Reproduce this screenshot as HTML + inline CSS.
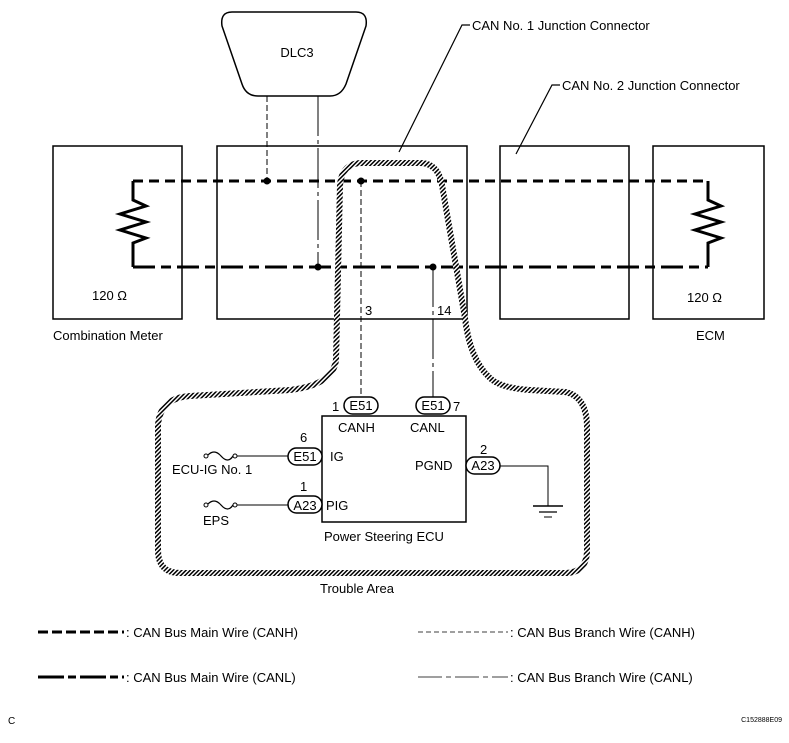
<!DOCTYPE html>
<html><head><meta charset="utf-8"><style>
html,body{margin:0;padding:0;background:#fff;}
svg{display:block;font-family:"Liberation Sans",Arial,sans-serif;}
</style></head><body>
<svg width="789" height="743" viewBox="0 0 789 743" xmlns="http://www.w3.org/2000/svg">
<defs>
<pattern id="h" width="3" height="3" patternUnits="userSpaceOnUse" patternTransform="rotate(45)">
<rect width="3" height="3" fill="#fff"/><rect width="1.5" height="3" fill="#000"/>
</pattern>
</defs>
<g fill="none" stroke="#000">
<!-- boxes -->
<rect x="53" y="146" width="129" height="173" stroke-width="1.5"/>
<rect x="217" y="146" width="250" height="173" stroke-width="1.5"/>
<rect x="500" y="146" width="129" height="173" stroke-width="1.5"/>
<rect x="653" y="146" width="111" height="173" stroke-width="1.5"/>
<!-- DLC3 -->
<path d="M232 12 L356 12 Q368 12 366 26 L346 84 Q341 96 330 96 L258 96 Q246 96 242 84 L222 26 Q220 12 232 12 Z" stroke-width="1.5"/>
<!-- DLC branches -->
<line x1="267" y1="96" x2="267" y2="181" stroke-width="1" stroke-dasharray="6,3"/>
<line x1="318" y1="96" x2="318" y2="267" stroke-width="1" stroke-dasharray="40,4,4,4"/>
<!-- main wires -->
<line x1="133" y1="181" x2="708" y2="181" stroke-width="3" stroke-dasharray="10,6"/>
<line x1="133" y1="267" x2="708" y2="267" stroke-width="3" stroke-dasharray="22,6,10,6"/>
<!-- resistors -->
<path d="M133 181 V200 L146 206 L120 214 L146 222 L120 230 L146 238 L133 243 V267" stroke-width="3" stroke-dasharray="none"/>
<path d="M708 181 V200 L721 206 L695 214 L721 222 L695 230 L721 238 L708 243 V267" stroke-width="3"/>
<!-- ECU branches -->
<line x1="361" y1="181" x2="361" y2="397" stroke-width="1" stroke-dasharray="6,3"/>
<line x1="433" y1="267" x2="433" y2="397" stroke-width="1" stroke-dasharray="40,4,4,4"/>
<!-- label leaders -->
<polyline points="399,152 462,25 470,25" stroke-width="1.2"/>
<polyline points="516,154 552,85 560,85" stroke-width="1.2"/>
<!-- trouble area -->
<path d="M336 360 L340 185 Q342 163 362 163 L420 163 Q438 163 442 185 L465 318 Q470 360 490 378 Q500 388 530 390 L565 392 Q586 396 587 425 L587 550 Q587 573 565 573 L180 573 Q158 573 158 550 L158 425 Q160 398 190 396 L290 390 Q333 385 336 360 Z" stroke="url(#h)" stroke-width="6"/>
<!-- ECU box -->
<rect x="322" y="416" width="144" height="106" stroke-width="1.5"/>
<!-- connectors -->
<rect x="344" y="397" width="34" height="17" rx="8.5" stroke-width="1.5" fill="#fff"/>
<rect x="416" y="397" width="34" height="17" rx="8.5" stroke-width="1.5" fill="#fff"/>
<rect x="288" y="448" width="34" height="17" rx="8.5" stroke-width="1.5" fill="#fff"/>
<rect x="288" y="496" width="34" height="17" rx="8.5" stroke-width="1.5" fill="#fff"/>
<rect x="466" y="457" width="34" height="17" rx="8.5" stroke-width="1.5" fill="#fff"/>
<!-- fuses -->
<line x1="235" y1="456" x2="288" y2="456" stroke-width="1"/>
<path d="M207 456 q7 -8 14 0 q7 8 12 0" stroke-width="1.3"/>
<circle cx="206" cy="456" r="2" stroke-width="1" fill="#fff"/><circle cx="235" cy="456" r="2" stroke-width="1" fill="#fff"/>
<line x1="235" y1="505" x2="288" y2="505" stroke-width="1"/>
<path d="M207 505 q7 -8 14 0 q7 8 12 0" stroke-width="1.3"/>
<circle cx="206" cy="505" r="2" stroke-width="1" fill="#fff"/><circle cx="235" cy="505" r="2" stroke-width="1" fill="#fff"/>
<!-- ground -->
<polyline points="500,466 548,466 548,506" stroke-width="1"/>
<line x1="533" y1="506" x2="563" y2="506" stroke-width="1.5"/>
<line x1="539" y1="512" x2="557" y2="512" stroke-width="1.2"/>
<line x1="544" y1="517" x2="552" y2="517" stroke-width="1"/>
<!-- legend -->
<line x1="38" y1="632" x2="124" y2="632" stroke-width="3" stroke-dasharray="10,4"/>
<line x1="418" y1="632" x2="508" y2="632" stroke-width="0.8" stroke-dasharray="5,3"/>
<line x1="38" y1="677" x2="124" y2="677" stroke-width="3" stroke-dasharray="26,4,8,4"/>
<line x1="418" y1="677" x2="508" y2="677" stroke-width="0.8" stroke-dasharray="24,4,5,4"/>
</g>
<g fill="#000">
<circle cx="267" cy="181" r="3.5"/><circle cx="361" cy="181" r="3.5"/>
<circle cx="318" cy="267" r="3.5"/><circle cx="433" cy="267" r="3.5"/>
</g>
<g font-size="13" fill="#000">
<text x="297" y="57" text-anchor="middle">DLC3</text>
<text x="472" y="30">CAN No. 1 Junction Connector</text>
<text x="562" y="90">CAN No. 2 Junction Connector</text>
<text x="92" y="300">120 Ω</text>
<text x="687" y="302">120 Ω</text>
<text x="53" y="340">Combination Meter</text>
<text x="696" y="340">ECM</text>
<text x="365" y="315">3</text>
<text x="437" y="315">14</text>
<text x="332" y="411">1</text>
<text x="361" y="410" text-anchor="middle">E51</text>
<text x="433" y="410" text-anchor="middle">E51</text>
<text x="453" y="411">7</text>
<text x="338" y="432">CANH</text>
<text x="410" y="432">CANL</text>
<text x="300" y="442">6</text>
<text x="305" y="461" text-anchor="middle">E51</text>
<text x="330" y="461">IG</text>
<text x="172" y="474">ECU-IG No. 1</text>
<text x="300" y="491">1</text>
<text x="305" y="510" text-anchor="middle">A23</text>
<text x="326" y="510">PIG</text>
<text x="203" y="525">EPS</text>
<text x="480" y="454">2</text>
<text x="483" y="470" text-anchor="middle">A23</text>
<text x="415" y="470">PGND</text>
<text x="324" y="541">Power Steering ECU</text>
<text x="320" y="593">Trouble Area</text>
<text x="126" y="637">: CAN Bus Main Wire (CANH)</text>
<text x="510" y="637">: CAN Bus Branch Wire (CANH)</text>
<text x="126" y="682">: CAN Bus Main Wire (CANL)</text>
<text x="510" y="682">: CAN Bus Branch Wire (CANL)</text>
<text x="8" y="724" font-size="10">C</text>
<text x="782" y="722" font-size="7" text-anchor="end">C152888E09</text>
</g>
</svg>
</body></html>
